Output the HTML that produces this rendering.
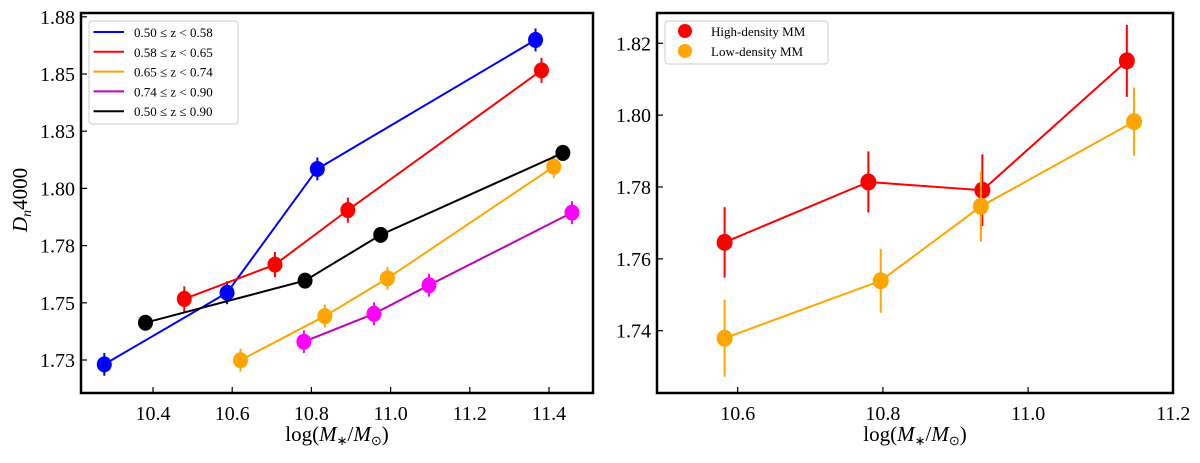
<!DOCTYPE html>
<html><head><meta charset="utf-8"><style>
html,body{margin:0;padding:0;background:#fff;}
svg text{font-family:"Liberation Serif",serif;fill:#000;}
</style></head><body>
<svg id="chart" width="1200" height="458" viewBox="0 0 1200 458" xmlns="http://www.w3.org/2000/svg" font-family="Liberation Serif, serif">
<g id="left"></g>
<g id="right"></g>
</svg>
<script>
// ---- Left panel data ----
const leftSeriesNames = ["0.50 ≤ z < 0.58","0.58 ≤ z < 0.65","0.65 ≤ z < 0.74","0.74 ≤ z < 0.90","0.50 ≤ z ≤ 0.90"];
const leftColors = ["#0000ff","#ff0000","#ffa500","#ff00ff","#000000"];
const leftLineColors = ["#0000ff","#ff0000","#ffa500","#bf00bf","#000000"];
const blueX = [10.277,10.587,10.815,11.366];
const blueY = [1.7231,1.7544,1.8085,1.8649];
const redX = [10.479,10.708,10.892,11.381];
const redY = [1.7517,1.7667,1.7905,1.8516];
const orangeX = [10.621,10.834,10.992,11.412];
const orangeY = [1.7249,1.7442,1.7607,1.8095];
const magentaX = [10.781,10.958,11.097,11.458];
const magentaY = [1.7330,1.7452,1.7577,1.7894];
const blackX = [10.381,10.784,10.975,11.435];
const blackY = [1.7413,1.7597,1.7797,1.8155];
const leftErr = [0.005,0.0055,0.005,0.005,0];
const leftXTicks = [10.4,10.6,10.8,11.0,11.2,11.4];
const leftXTickLabels = ["10.4","10.6","10.8","11.0","11.2","11.4"];
const leftYTicks = [1.725,1.75,1.775,1.8,1.825,1.85,1.875];
const leftYTickLabels = ["1.73","1.75","1.78","1.80","1.83","1.85","1.88"];
// ---- Right panel data ----
const rightSeriesNames = ["High-density MM","Low-density MM"];
const rightColors = ["#ff0000","#ffa500"];
const highX = [10.582,10.780,10.937,11.136];
const highY = [1.7646,1.7814,1.7791,1.8151];
const highErr = [0.0098,0.0085,0.010,0.010];
const lowX = [10.582,10.797,10.935,11.146];
const lowY = [1.7379,1.7539,1.7746,1.7982];
const lowErr = [0.0107,0.0089,0.0098,0.0095];
const rightXTicks = [10.6,10.8,11.0,11.2];
const rightXTickLabels = ["10.6","10.8","11.0","11.2"];
const rightYTicks = [1.74,1.76,1.78,1.80,1.82];
const rightYTickLabels = ["1.74","1.76","1.78","1.80","1.82"];

const NS="http://www.w3.org/2000/svg";
function mk(parent,tag,attrs,text){const e=document.createElementNS(NS,tag);for(const k in attrs)e.setAttribute(k,attrs[k]);if(text!==undefined)e.textContent=text;parent.appendChild(e);return e;}

const L={x0:81,x1:593,y0:13,y1:393};
const lx=v=>153+(v-10.4)*396;
const ly=v=>360-(v-1.725)/0.025*57.2;
const R={x0:657,x1:1173,y0:13,y1:393};
const rx=v=>737.7+(v-10.6)*726;
const ry=v=>330.7-(v-1.74)/0.02*71.85;

function axes(g,B,xt,xtl,yt,ytl,fx,fy,prefix){
  xt.forEach((t,i)=>{const X=fx(t);
    const tk=mk(g,'line',{x1:X,x2:X,y1:B.y1,y2:B.y1-6,stroke:'#000','stroke-width':1.2});
    
    
    const tl=mk(g,'text',{x:X,y:B.y1+27,'text-anchor':'middle','font-size':20,'font-family':'Liberation Serif, serif'},xtl[i]);
    
    
  });
  yt.forEach((t,i)=>{const Y=fy(t);
    const tk=mk(g,'line',{x1:B.x0,x2:B.x0+6,y1:Y,y2:Y,stroke:'#000','stroke-width':1.2});
    
    
    const tl=mk(g,'text',{x:B.x0-6,y:Y+7,'text-anchor':'end','font-size':20,'font-family':'Liberation Serif, serif'},ytl[i]);
    
    
  });
  const xl=mk(g,'text',{x:(B.x0+B.x1)/2,y:441,'text-anchor':'middle','font-size':21,'font-family':'Liberation Serif, serif'},'');
  
  
  xl.innerHTML='log(<tspan font-style="italic">M</tspan><tspan font-size="13" dy="4">∗</tspan><tspan dy="-4">/</tspan><tspan font-style="italic">M</tspan><tspan font-size="13" dy="4">⊙</tspan><tspan dy="-4">)</tspan>';
}
function series(g,xs,ys,es,fx,fy,color,lineColor,r,name){
  const pts=xs.map((x,i)=>fx(x)+','+fy(ys[i])).join(' ');
  const pl=mk(g,'polyline',{points:pts,fill:'none',stroke:lineColor,'stroke-width':2});
  
  
  xs.forEach((x,i)=>{
    const e=Array.isArray(es)?es[i]:es;
    if(e>0){const eb=mk(g,'line',{x1:fx(x),x2:fx(x),y1:fy(ys[i]-e),y2:fy(ys[i]+e),stroke:color,'stroke-width':2});
      
      }
    const c=mk(g,'ellipse',{cx:fx(x),cy:fy(ys[i]),rx:r,ry:r+0.5,fill:color});
    
    
  });
}
const gl=document.getElementById('left');
axes(gl,L,leftXTicks,leftXTickLabels,leftYTicks,leftYTickLabels,lx,ly,'left');
const allX=[blueX,redX,orangeX,magentaX,blackX], allY=[blueY,redY,orangeY,magentaY,blackY];
const snames=['blue-series','red-series','orange-series','magenta-series','black-series'];
allX.forEach((xs,i)=>series(gl,xs,allY[i],leftErr[i],lx,ly,leftColors[i],leftLineColors[i],7.5,snames[i]));
const fl=mk(gl,'rect',{x:L.x0,y:L.y0,width:L.x1-L.x0,height:L.y1-L.y0,fill:'none',stroke:'#000','stroke-width':2.5});


const yt=mk(gl,'text',{x:0,y:0,'font-size':21,'font-family':'Liberation Serif, serif',transform:'translate(27,200) rotate(-90)','text-anchor':'middle'},'');


yt.innerHTML='<tspan font-style="italic">D</tspan><tspan font-style="italic" font-size="14" dy="4">n</tspan><tspan dy="-4">4000</tspan>';
const lg=mk(gl,'g',{});


mk(lg,'rect',{x:89,y:21,width:149,height:103,rx:3,fill:'#fff',stroke:'#ccc','stroke-width':1});
leftSeriesNames.forEach((n,i)=>{const Y=32+i*19.8;
  const ln=mk(lg,'line',{x1:93.5,x2:124,y1:Y,y2:Y,stroke:leftLineColors[i],'stroke-width':2});
  
  
  const t=mk(lg,'text',{x:134,y:Y+5,'font-size':13,'font-family':'Liberation Serif, serif'},n);
  
  
});
const gr=document.getElementById('right');
axes(gr,R,rightXTicks,rightXTickLabels,rightYTicks,rightYTickLabels,rx,ry,'right');
series(gr,highX,highY,highErr,rx,ry,rightColors[0],rightColors[0],8,'high-density');
series(gr,lowX,lowY,lowErr,rx,ry,rightColors[1],rightColors[1],8,'low-density');
const fr=mk(gr,'rect',{x:R.x0,y:R.y0,width:R.x1-R.x0,height:R.y1-R.y0,fill:'none',stroke:'#000','stroke-width':2.5});


const rg=mk(gr,'g',{});


mk(rg,'rect',{x:665,y:21,width:163,height:43,rx:3,fill:'#fff',stroke:'#ccc','stroke-width':1});
rightSeriesNames.forEach((n,i)=>{const Y=31+i*20;
  const c=mk(rg,'circle',{cx:685,cy:Y,r:7,fill:rightColors[i]});
  
  
  const t=mk(rg,'text',{x:711,y:Y+5,'font-size':13,'font-family':'Liberation Serif, serif'},n);
  
  
});
</script>
</body></html>
